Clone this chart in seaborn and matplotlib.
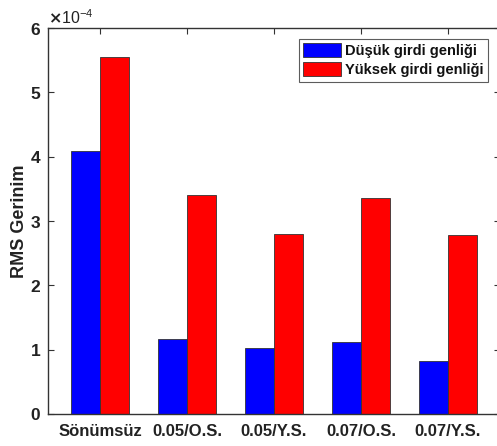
import matplotlib
matplotlib.use("Agg")
import matplotlib.pyplot as plt
import seaborn as sns
import pandas as pd

categories = ["Sönümsüz", "0.05/O.S.", "0.05/Y.S.", "0.07/O.S.", "0.07/Y.S."]
series_names = ["Düşük girdi genliği", "Yüksek girdi genliği"]
low_values = [4.09e-4, 1.16e-4, 1.02e-4, 1.12e-4, 0.82e-4]
high_values = [5.55e-4, 3.41e-4, 2.80e-4, 3.36e-4, 2.78e-4]
yticks = [0, 1e-4, 2e-4, 3e-4, 4e-4, 5e-4, 6e-4]

df = pd.DataFrame({
    "cat": categories * 2,
    "series": [series_names[0]] * len(categories) + [series_names[1]] * len(categories),
    "val": low_values + high_values,
})

sns.set_theme(style="white")
plt.rcParams["font.family"] = ["Liberation Sans", "DejaVu Sans"]
plt.rcParams["font.weight"] = "bold"

fig = plt.figure(figsize=(4.97, 4.46), dpi=100)
ax = fig.add_axes([48 / 497, 32 / 446, 452 / 497, 386 / 446])

sns.barplot(data=df, x="cat", y="val", hue="series", order=categories,
            hue_order=series_names, palette=["#0000ff", "#ff0000"],
            width=0.667, saturation=1, ax=ax, errorbar=None, dodge=True)
for p in ax.patches:
    p.set_edgecolor("#333333")
    p.set_linewidth(0.6)

ax.set_xlim(-0.6, 4.6)
ax.set_ylim(0, 6e-4)
ax.set_yticks(yticks)
ax.ticklabel_format(axis="y", style="sci", scilimits=(0, 0), useMathText=True)
ax.yaxis.get_offset_text().set_fontsize(11.5)
ax.yaxis.get_offset_text().set_fontweight("normal")
ax.yaxis.get_offset_text().set_color("#222222")
ax.set_xlabel("")
ax.set_ylabel("RMS Gerinim", fontsize=13, fontweight="bold", labelpad=1, color="#222222")
ax.tick_params(axis="both", direction="in", length=4, width=0.8, color="#333333",
               labelsize=12, top=True, right=True, bottom=True, left=True)
ax.tick_params(axis="y", pad=5, labelsize=12.5)
ax.tick_params(axis="x", pad=7)
for lab in ax.get_xticklabels() + ax.get_yticklabels():
    lab.set_fontweight("bold")
    lab.set_color("#222222")
for s in ax.spines.values():
    s.set_visible(True)
    s.set_color("#333333")
    s.set_linewidth(1.0)

leg = ax.legend(loc="upper right", bbox_to_anchor=(0.98, 0.98), fontsize=10.5,
                frameon=True, fancybox=False, edgecolor="#333333",
                handlelength=2.6, handleheight=1.1, handletextpad=0.3,
                borderpad=0.3, labelspacing=0.3, borderaxespad=0.2)
leg.get_frame().set_linewidth(0.8)
for t in leg.get_texts():
    t.set_fontweight("bold")
    t.set_color("#111111")

fig.savefig("out.png", dpi=100)
